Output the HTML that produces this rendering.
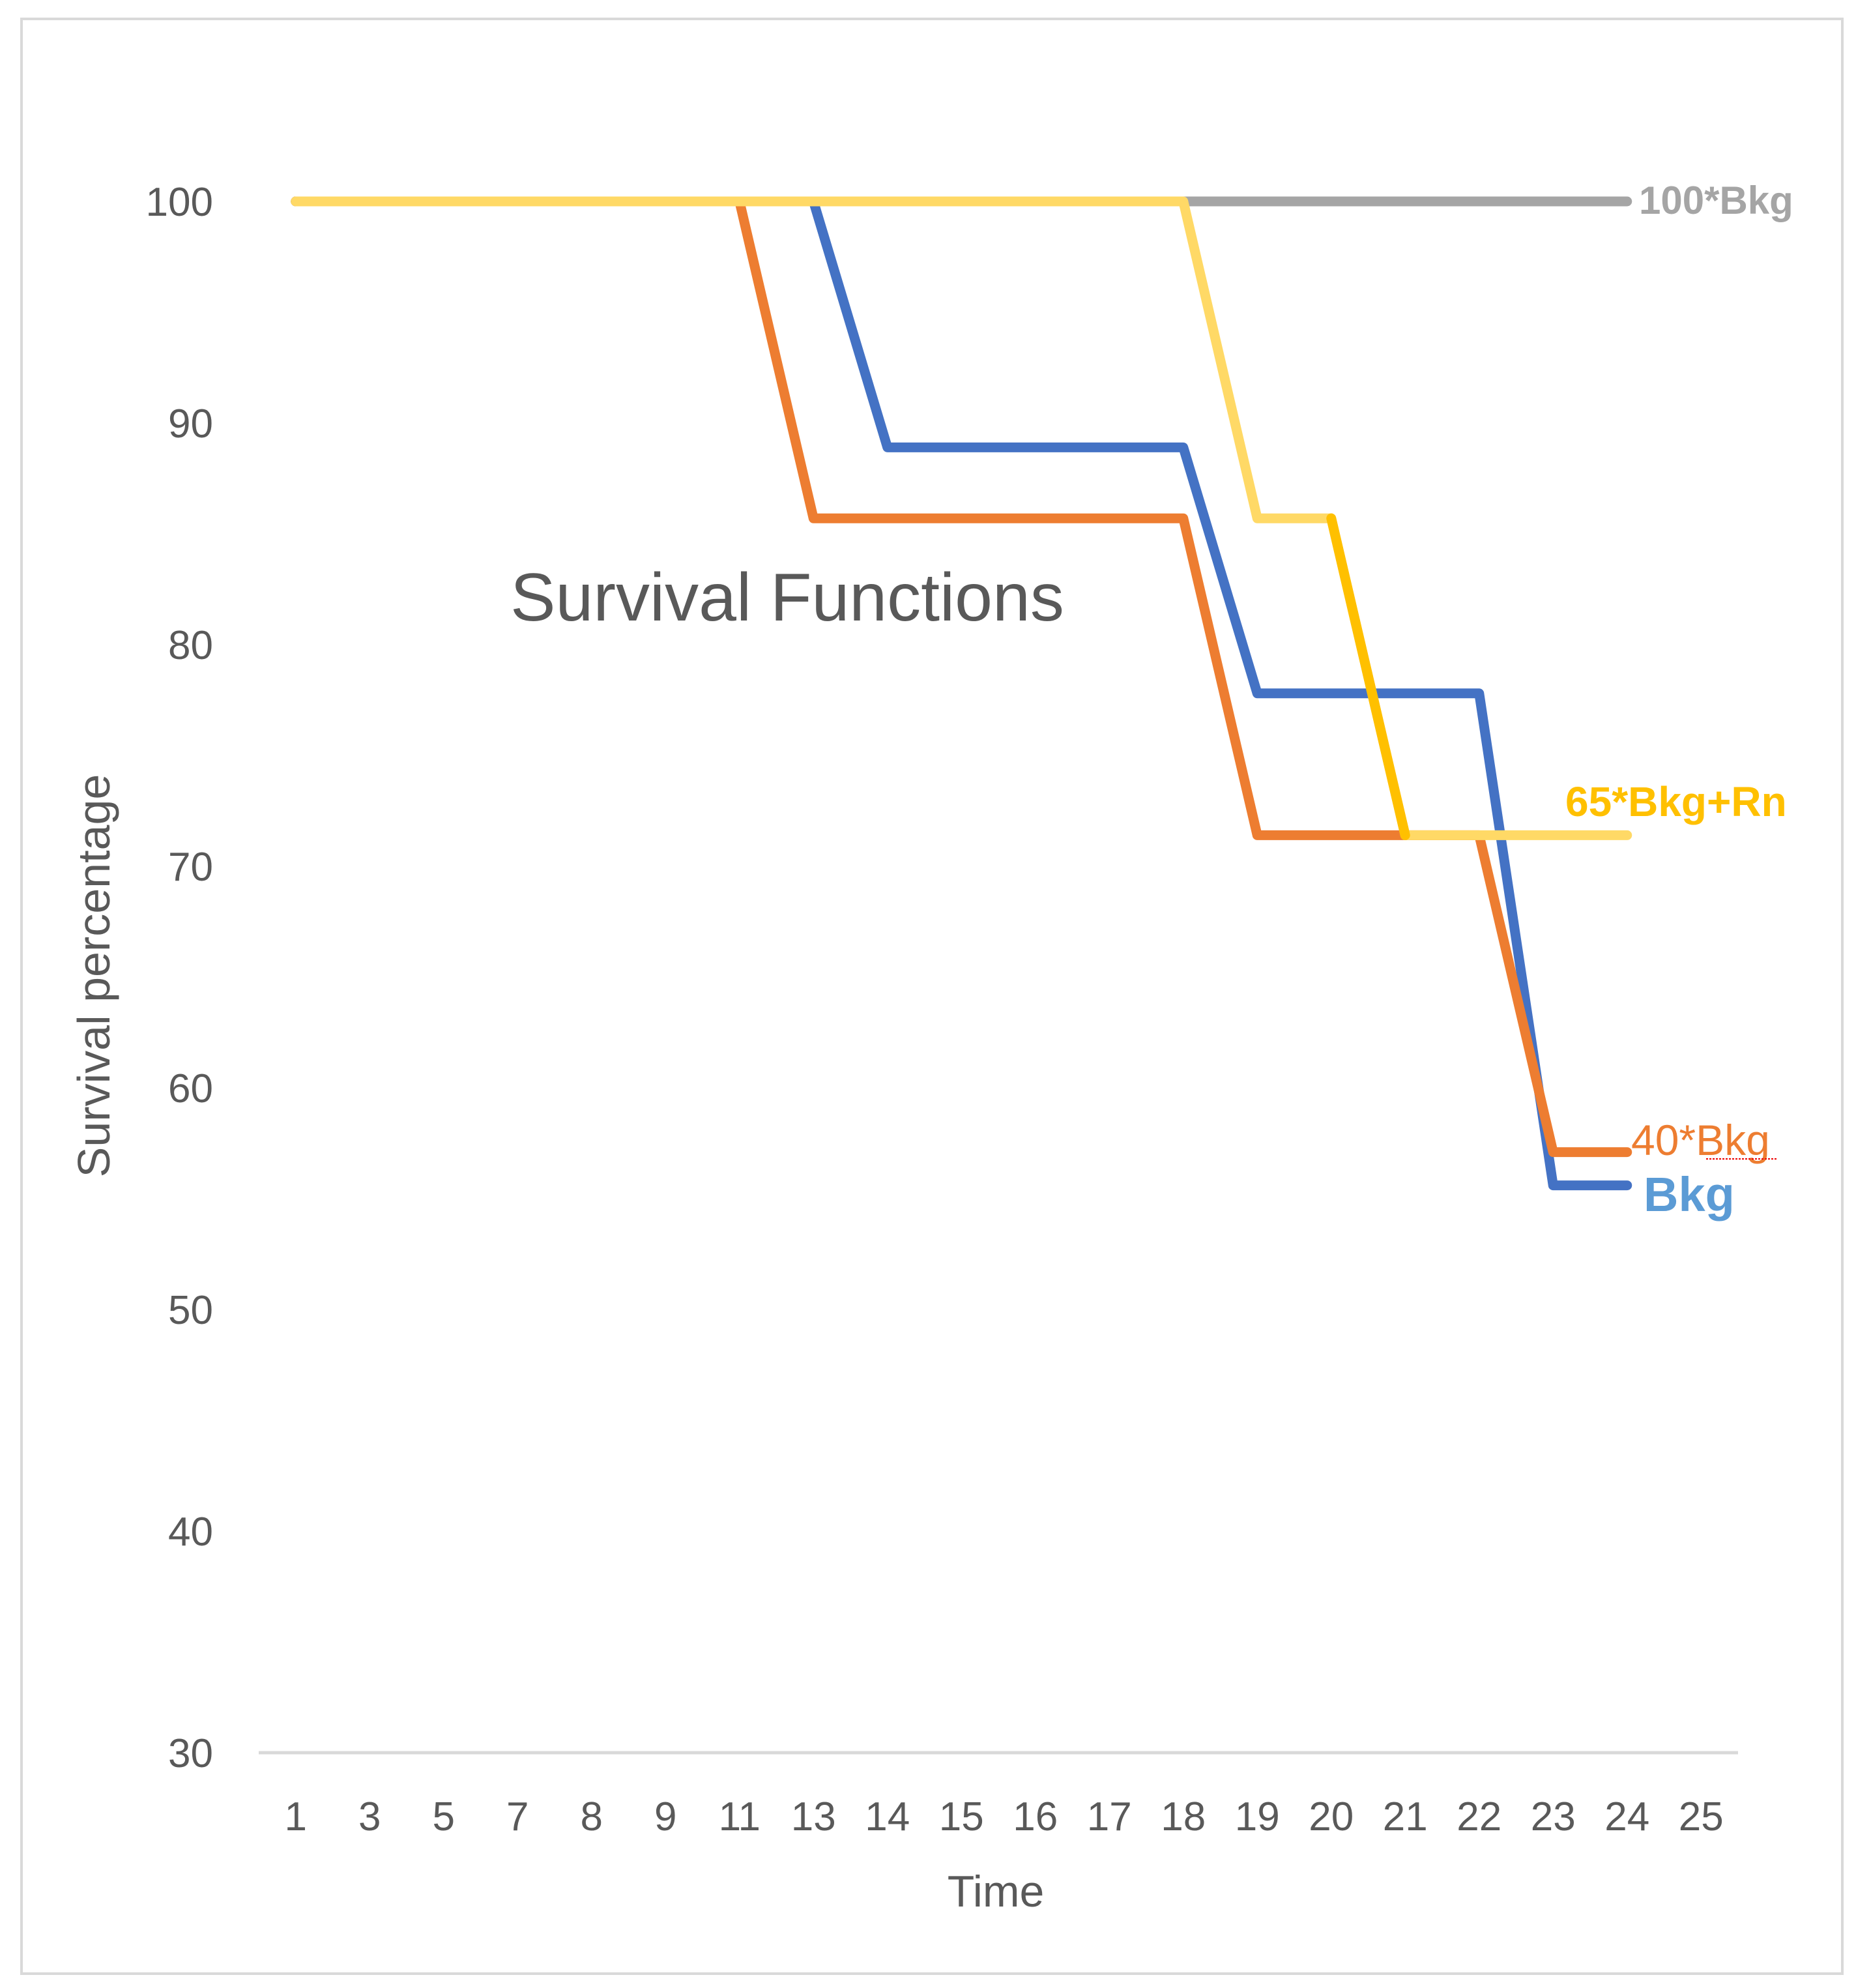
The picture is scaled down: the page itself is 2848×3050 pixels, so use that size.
<!DOCTYPE html>
<html><head><meta charset="utf-8"><style>
html,body{margin:0;padding:0;background:#fff}
svg{display:block}
text{font-family:"Liberation Sans",sans-serif}
</style></head><body>
<svg id="chart" width="2848" height="3050" viewBox="0 0 2848 3050">
<rect x="33" y="29" width="2794" height="2999" fill="#fff" stroke="#d9d9d9" stroke-width="4"/>
<line x1="397" y1="2689" x2="2667" y2="2689" stroke="#d9d9d9" stroke-width="5"/>
<g id="yticks"></g>
<g id="xticks"></g>
<g id="series"></g>
<text x="1208" y="952" font-size="104" fill="#595959" text-anchor="middle">Survival Functions</text>
<text transform="translate(168,1497) rotate(-90)" font-size="70" fill="#595959" text-anchor="middle">Survival percentage</text>
<text x="1528" y="2925" font-size="68" fill="#595959" text-anchor="middle">Time</text>
<text x="2515" y="328" font-size="60" font-weight="bold" fill="#a5a5a5">100*Bkg</text>
<text x="2402" y="1252" font-size="64" font-weight="bold" fill="#ffc000">65*Bkg+Rn</text>
<text x="2503" y="1772" font-size="66" fill="#ed7d31">40*Bkg</text>
<line x1="2618" y1="1778" x2="2728" y2="1778" stroke="#e00" stroke-width="2" stroke-dasharray="3,2"/>
<text x="2522" y="1858" font-size="74" font-weight="bold" fill="#5b9bd5">Bkg</text>
</svg>
<script>
const categories = ["1","3","5","7","8","9","11","13","14","15","16","17","18","19","20","21","22","23","24","25"];
const yTicks = [30,40,50,60,70,80,90,100];
const gray100Bkg = [100,100,100,100,100,100,100,100,100,100,100,100,100,100,100,100,100,100,100];
const blueBkg = [100,100,100,100,100,100,100,100,88.9,88.9,88.9,88.9,88.9,77.8,77.8,77.8,77.8,55.6,55.6];
const orange40Bkg = [100,100,100,100,100,100,100,85.7,85.7,85.7,85.7,85.7,85.7,71.4,71.4,71.4,71.4,57.1,57.1];
const yellow65BkgRn = [100,100,100,100,100,100,100,100,100,100,100,100,100,85.7,85.7,71.4,71.4,71.4,71.4];

const NS = "http://www.w3.org/2000/svg";
const left = 397, right = 2667, yMin = 30, yMax = 100, yTop = 309, yBot = 2689;
const step = (right - left) / categories.length;
function xPos(i){ return left + step * (i + 0.5); }
function yPos(v){ return yBot - (v - yMin) / (yMax - yMin) * (yBot - yTop); }

const yt = document.getElementById('yticks');
yTicks.forEach(v => {
  const t = document.createElementNS(NS, 'text');
  t.setAttribute('x', 327); t.setAttribute('y', yPos(v) + 22);
  t.setAttribute('text-anchor', 'end'); t.setAttribute('font-size', '62'); t.setAttribute('fill', '#595959');
  
  
  t.textContent = v; yt.appendChild(t);
});
const xt = document.getElementById('xticks');
categories.forEach((c, i) => {
  const t = document.createElementNS(NS, 'text');
  t.setAttribute('x', xPos(i)); t.setAttribute('y', 2808);
  t.setAttribute('text-anchor', 'middle'); t.setAttribute('font-size', '62'); t.setAttribute('fill', '#595959');
  
  
  t.textContent = c; xt.appendChild(t);
});
const sg = document.getElementById('series');
function drawLine(vals, color, name){
  const pts = vals.map((v, i) => xPos(i) + ',' + yPos(v)).join(' ');
  const p = document.createElementNS(NS, 'polyline');
  p.setAttribute('points', pts); p.setAttribute('fill', 'none');
  p.setAttribute('stroke', color); p.setAttribute('stroke-width', '15');
  p.setAttribute('stroke-linejoin', 'round'); p.setAttribute('stroke-linecap', 'round');
  
  
  sg.appendChild(p);
}
drawLine(gray100Bkg, '#a5a5a5', 'line-100-bkg');
drawLine(blueBkg, '#4472c4', 'line-bkg');
drawLine(orange40Bkg, '#ed7d31', 'line-40-bkg');
drawLine(yellow65BkgRn, '#ffd966', 'line-65-bkg-rn');
const s = document.createElementNS(NS, 'line');
s.setAttribute('x1', xPos(14)); s.setAttribute('y1', yPos(yellow65BkgRn[14]));
s.setAttribute('x2', xPos(15)); s.setAttribute('y2', yPos(yellow65BkgRn[15]));
s.setAttribute('stroke', '#ffc000'); s.setAttribute('stroke-width', '15'); s.setAttribute('stroke-linecap', 'round');


sg.appendChild(s);
</script>
</body></html>
